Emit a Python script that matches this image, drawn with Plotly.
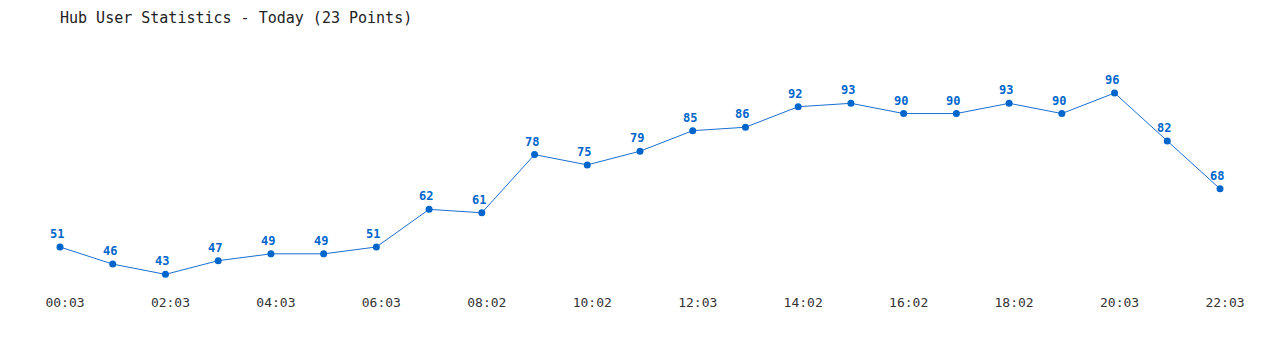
import plotly.graph_objects as go

times = ["00:03", "01:03", "02:03", "03:03", "04:03", "05:03", "06:03", "07:03",
         "08:02", "09:02", "10:02", "11:02", "12:03", "13:03", "14:02", "15:02",
         "16:02", "17:02", "18:02", "19:02", "20:03", "21:03", "22:03"]
users = [51, 46, 43, 47, 49, 49, 51, 62, 61, 78, 75, 79, 85, 86, 92, 93,
         90, 90, 93, 90, 96, 82, 68]
tick_labels = times[::2]

fig = go.Figure(go.Scatter(
    x=times, y=users, mode="lines+markers",
    line=dict(color="#1a6fd0", width=1),
    marker=dict(color="#0066cc", size=7),
    cliponaxis=False, hoverinfo="x+y",
))

for t, v in zip(times, users):
    fig.add_annotation(x=t, y=v, text=str(v), showarrow=False,
                       xshift=-3, yshift=13,
                       font=dict(family="DejaVu Sans Mono", size=12,
                                 color="#0066cc", weight="bold"))

fig.update_layout(
    width=1280, height=350,
    margin=dict(l=60, r=60, t=40, b=60),
    paper_bgcolor="white", plot_bgcolor="white",
    showlegend=False,
    title=dict(text="Hub User Statistics - Today (23 Points)", x=0, xref="paper",
               xanchor="left", y=0.948, yanchor="middle",
               font=dict(family="DejaVu Sans Mono", size=15, color="#222")),
    xaxis=dict(type="category", range=[0, 22], tickmode="array",
               tickvals=tick_labels, ticktext=tick_labels,
               showgrid=False, zeroline=False, showline=False, ticks="",
               ticklabelstandoff=3, ticklabelshift=5,
               tickfont=dict(family="DejaVu Sans Mono", size=13, color="#333")),
    yaxis=dict(range=[38.43, 111.5], visible=False),
)

fig.write_html("out.html")
